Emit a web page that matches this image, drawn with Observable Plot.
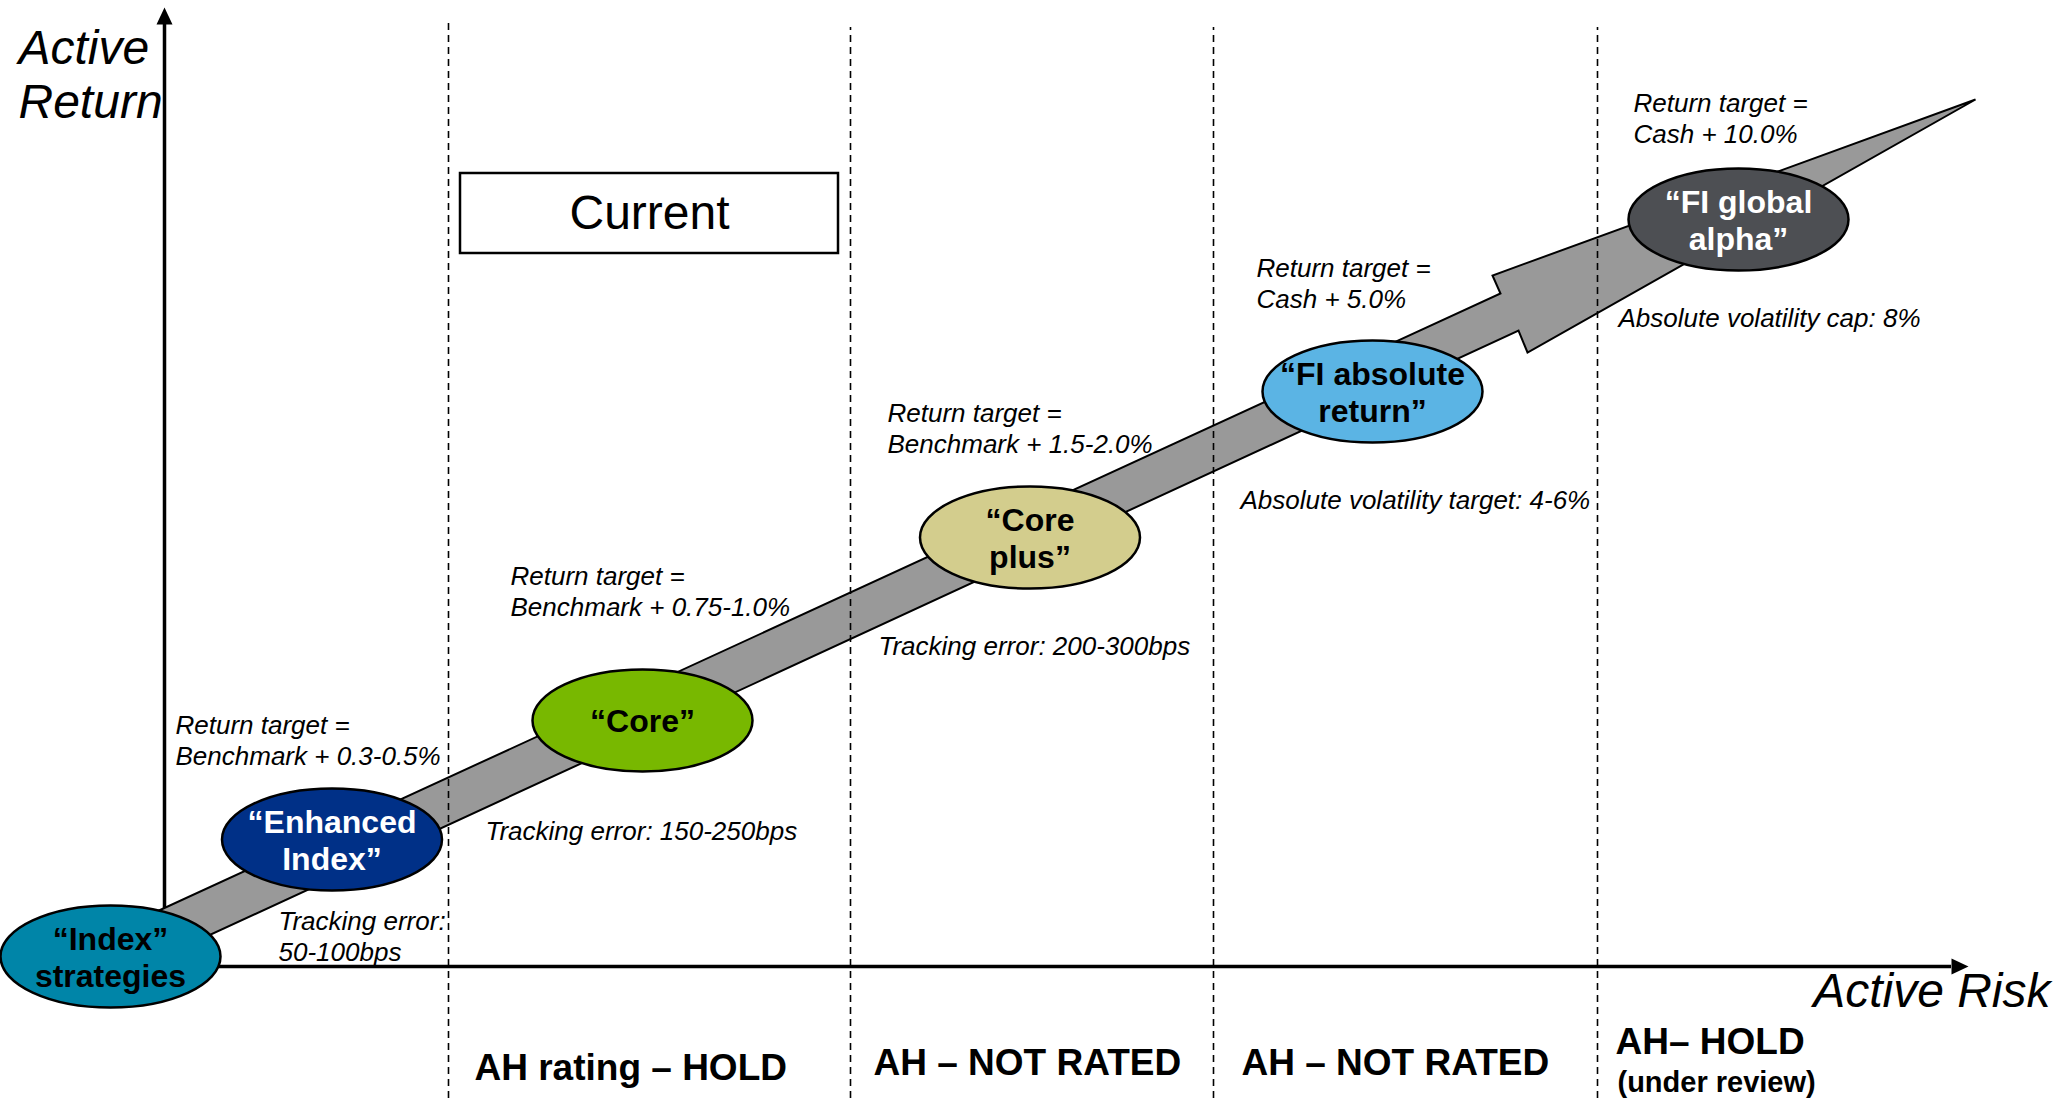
<!DOCTYPE html>
<html>
<head>
<meta charset="utf-8">
<script src="https://cdn.jsdelivr.net/npm/d3@7"></script>
<script src="https://cdn.jsdelivr.net/npm/@observablehq/plot@0.6"></script>
<style>
  html, body { margin: 0; padding: 0; background: #ffffff; }
  svg { display: block; }
</style>
</head>
<body>
<div id="chart"></div>
<script>
// ---------- DATA (risk / return units) ----------
const strategyLabels = ["“Index”\nstrategies", "“Enhanced\nIndex”", "“Core”", "“Core\nplus”", "“FI absolute\nreturn”", "“FI global\nalpha”"];
const strategyRisk   = [-5.4, 16.75, 47.8, 86.55, 120.8, 157.4];
const strategyReturn = [1.0, 12.7, 24.6, 42.9, 57.5, 74.7];
const strategyFill   = ["#0085A8", "#003087", "#78B800", "#D3CD8D", "#5BB4E4", "#4D4F53"];
const strategyInk    = ["#000000", "#ffffff", "#000000", "#000000", "#000000", "#ffffff"];

const noteText = [
  "Return target =\nBenchmark + 0.3-0.5%",
  "Tracking error:\n50-100bps",
  "Return target =\nBenchmark + 0.75-1.0%",
  "Tracking error: 150-250bps",
  "Return target =\nBenchmark + 1.5-2.0%",
  "Tracking error: 200-300bps",
  "Return target =\nCash + 5.0%",
  "Absolute volatility target: 4-6%",
  "Return target =\nCash + 10.0%",
  "Absolute volatility cap: 8%"
];
const noteRisk   = [1.1, 11.4, 34.6, 32.1, 72.3, 71.4, 109.2, 107.6, 146.9, 145.4];
const noteReturn = [22.7, 3.1, 37.6, 13.6, 53.85, 32.1, 68.35, 46.7, 84.85, 64.9];

const ratingText   = ["AH rating – HOLD", "AH – NOT RATED", "AH – NOT RATED", "AH– HOLD"];
const ratingRisk   = [31.0, 70.9, 107.7, 145.1];
const ratingReturn = [-10.2, -9.7, -9.7, -7.6];
const reviewText   = ["(under review)"];
const reviewRisk   = [145.3];
const reviewReturn = [-11.6];

const dividerRisk = [28.4, 68.6, 104.9, 143.3];
const dividerTop  = [94.4, 93.9, 93.9, 93.9];
const dividerBottom = -13.2;

// growth arrow outline (band + arrowhead)
const arrowRisk   = [-4.9, 133.6, 132.8, 181.1, 136.3, 135.4, -4.9];
const arrowReturn = [3.6, 67.3, 69.1, 86.7, 61.4, 63.6, -1.2];

// axes
const axisOrigin = [0, 0];
const yAxisEnd = 94.2;   // return value at base of arrowhead
const xAxisEnd = 178.7;  // risk value at base of arrowhead
const axisTitles = ["Active\nReturn", "Active Risk"];
const axisTitleRisk = [-14.6, 188.6];
const axisTitleReturn = [89.3, -2.5];

const currentLabel = "Current";
const currentBox = {x1: 29.6, x2: 67.4, y1: 71.3, y2: 79.3};
const currentPos = [48.5, 75.3];

// ---------- tables ----------
const strategies = strategyLabels.map((label, i) => ({label, risk: strategyRisk[i], ret: strategyReturn[i], fill: strategyFill[i], ink: strategyInk[i]}));
const notes = noteText.map((text, i) => ({text, risk: noteRisk[i], ret: noteReturn[i]}));
const ratings = ratingText.map((text, i) => ({text, risk: ratingRisk[i], ret: ratingReturn[i]}));
const reviews = reviewText.map((text, i) => ({text, risk: reviewRisk[i], ret: reviewReturn[i]}));
const dividers = dividerRisk.map((risk, i) => ({risk, top: dividerTop[i]}));
const arrowOutline = arrowRisk.map((risk, i) => ({risk, ret: arrowReturn[i]}));
const titles = axisTitles.map((text, i) => ({text, risk: axisTitleRisk[i], ret: axisTitleReturn[i]}));

// ---------- custom symbols ----------
const ellipseSymbol = {
  draw(ctx) {
    const rx = 110, ry = 51, k = 0.5523;
    ctx.moveTo(rx, 0);
    ctx.bezierCurveTo(rx, ry * k, rx * k, ry, 0, ry);
    ctx.bezierCurveTo(-rx * k, ry, -rx, ry * k, -rx, 0);
    ctx.bezierCurveTo(-rx, -ry * k, -rx * k, -ry, 0, -ry);
    ctx.bezierCurveTo(rx * k, -ry, rx, -ry * k, rx, 0);
    ctx.closePath();
  }
};
const upHead = {draw(ctx) { ctx.moveTo(0, -17); ctx.lineTo(8, 0); ctx.lineTo(-8, 0); ctx.closePath(); }};
const rightHead = {draw(ctx) { ctx.moveTo(17, 0); ctx.lineTo(0, -8); ctx.lineTo(0, 8); ctx.closePath(); }};

const FONT = "'Liberation Sans', Arial, Helvetica, sans-serif";

const chart = Plot.plot({
  width: 2061,
  height: 1098,
  margin: 0,
  x: {domain: [-16.4, 189.7], range: [0, 2061], axis: null},
  y: {domain: [-13.2, 96.6], range: [1098, 0], axis: null},
  color: {type: "identity"},
  style: {fontFamily: FONT, background: "#ffffff"},
  marks: [
    // axes
    Plot.ruleX([axisOrigin[0]], {y1: axisOrigin[1], y2: yAxisEnd, stroke: "#000", strokeWidth: 3.5}),
    Plot.ruleY([axisOrigin[1]], {x1: axisOrigin[0], x2: xAxisEnd, stroke: "#000", strokeWidth: 3.5}),
    Plot.dot([{risk: axisOrigin[0], ret: yAxisEnd}], {x: "risk", y: "ret", symbol: upHead, fill: "#000", stroke: "none"}),
    Plot.dot([{risk: xAxisEnd, ret: axisOrigin[1]}], {x: "risk", y: "ret", symbol: rightHead, fill: "#000", stroke: "none"}),
    // growth arrow
    Plot.line(arrowOutline, {x: "risk", y: "ret", curve: "linear-closed", fill: "#999999", stroke: "#000", strokeWidth: 2, strokeLinejoin: "miter", strokeMiterlimit: 4}),
    // dashed dividers
    Plot.ruleX(dividers, {x: "risk", y1: dividerBottom, y2: "top", stroke: "#000", strokeWidth: 1.6, strokeDasharray: "7,5"}),
    // strategy ellipses
    Plot.dot(strategies, {x: "risk", y: "ret", symbol: ellipseSymbol, fill: "fill", stroke: "#000", strokeWidth: 2.5}),
    Plot.text(strategies, {x: "risk", y: "ret", text: "label", fill: "ink", fontFamily: FONT, fontWeight: "bold", fontSize: 32, lineHeight: 1.17}),
    // annotations
    Plot.text(notes, {x: "risk", y: "ret", text: "text", textAnchor: "start", fill: "#000", fontFamily: FONT, fontStyle: "italic", fontSize: 26, lineHeight: 1.19}),
    // ratings
    Plot.text(ratings, {x: "risk", y: "ret", text: "text", textAnchor: "start", fill: "#000", fontFamily: FONT, fontWeight: "bold", fontSize: 37}),
    Plot.text(reviews, {x: "risk", y: "ret", text: "text", textAnchor: "start", fill: "#000", fontFamily: FONT, fontWeight: "bold", fontSize: 29}),
    // axis titles
    Plot.text(titles.slice(0, 1), {x: "risk", y: "ret", text: "text", textAnchor: "start", fill: "#000", fontFamily: FONT, fontStyle: "italic", fontSize: 48, lineHeight: 1.12}),
    Plot.text(titles.slice(1), {x: "risk", y: "ret", text: "text", textAnchor: "end", fill: "#000", fontFamily: FONT, fontStyle: "italic", fontSize: 48}),
    // current box
    Plot.rect([currentBox], {x1: "x1", x2: "x2", y1: "y1", y2: "y2", fill: "#ffffff", stroke: "#000", strokeWidth: 2.5}),
    Plot.text([{text: currentLabel, risk: currentPos[0], ret: currentPos[1]}], {x: "risk", y: "ret", text: "text", fill: "#000", fontFamily: FONT, fontSize: 48})
  ]
});
document.getElementById("chart").appendChild(chart);
</script>
</body>
</html>
